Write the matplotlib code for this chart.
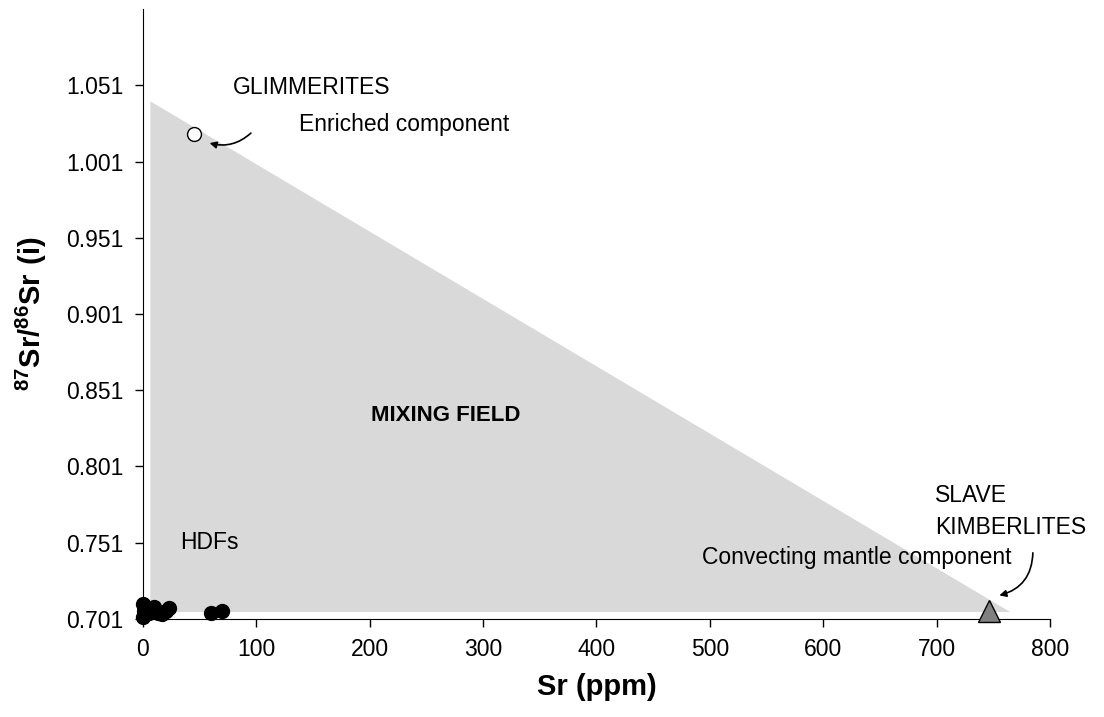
import matplotlib
matplotlib.use("Agg")
import matplotlib.pyplot as plt
from matplotlib.patches import Polygon

plt.rcParams['font.family'] = ['Liberation Sans', 'DejaVu Sans']
plt.rcParams['mathtext.fontset'] = 'custom'
plt.rcParams['mathtext.rm'] = 'Liberation Sans'
plt.rcParams['mathtext.bf'] = 'Liberation Sans:bold'

# -----------------------------
# Data
# -----------------------------
# mixing field (Sr ppm, 87Sr/86Sr)
field_x = [6.5, 6.5, 765]
field_y = [0.7056, 1.0405, 0.7056]

# HDFs
hdf_sr = [0, 0, 1, 2, 3, 5, 8, 10, 13, 17, 20, 23, 60, 70]
hdf_ratio = [0.711, 0.702, 0.706, 0.704, 0.708, 0.705, 0.707, 0.709,
             0.705, 0.704, 0.706, 0.708, 0.705, 0.706]

# end members
glim_sr = [45]
glim_ratio = [1.019]
kimb_sr = [746]
kimb_ratio = [0.7062]

yticks = [0.701, 0.751, 0.801, 0.851, 0.901, 0.951, 1.001, 1.051]
xticks = [0, 100, 200, 300, 400, 500, 600, 700, 800]

# -----------------------------
# Plot
# -----------------------------
fig = plt.figure(figsize=(11.04, 7.17), dpi=100)
ax = fig.add_axes([0.1295, 0.1367, 0.8215, 0.8507])

ax.add_patch(Polygon(list(zip(field_x, field_y)), closed=True,
                     facecolor="#d9d9d9", edgecolor="none", zorder=1))

ax.plot(hdf_sr, hdf_ratio, "o", color="black", markersize=10, zorder=3,
        clip_on=False)
ax.plot(glim_sr, glim_ratio, "o", markerfacecolor="white",
        markeredgecolor="black", markersize=10, markeredgewidth=1, zorder=3)
ax.plot(kimb_sr, kimb_ratio, "^", markerfacecolor="#808080",
        markeredgecolor="black", markersize=16, markeredgewidth=1, zorder=3,
        clip_on=False)

ax.set_xlim(0, 800)
ax.set_ylim(0.701, 1.101)
ax.set_xticks(xticks)
ax.set_yticks(yticks)
ax.set_yticklabels([f"{v:.3f}" for v in yticks])
ax.tick_params(direction="out", length=6, width=1, labelsize=16.5)
ax.tick_params(axis="y", pad=8)
ax.tick_params(axis="x", pad=8)
for s in ["top", "right"]:
    ax.spines[s].set_visible(False)

ax.set_xlabel("Sr (ppm)", fontsize=21, fontweight="bold", labelpad=8)
ax.set_ylabel(r"$\mathbf{^{87}Sr/^{86}Sr\ (i)}$", fontsize=21, labelpad=12)

fs = 16.5
ax.text(79, 1.0497, "GLIMMERITES", fontsize=fs, va="center")
ax.text(138, 1.0254, "Enriched component", fontsize=fs, va="center")
ax.text(267, 0.8347, "MIXING FIELD", fontsize=16, fontweight="bold",
        ha="center", va="center")
ax.text(32.6, 0.751, "HDFs", fontsize=fs, va="center")
ax.text(699, 0.7823, "SLAVE", fontsize=fs, va="center")
ax.text(699, 0.7613, "KIMBERLITES", fontsize=fs, va="center")
ax.text(493, 0.741, "Convecting mantle component", fontsize=fs, va="center")

ax.annotate("", xy=(56.4, 1.0136), xytext=(97, 1.0209),
            arrowprops=dict(arrowstyle="-|>", color="black", lw=1.2,
                            mutation_scale=10,
                            connectionstyle="arc3,rad=-0.3"))
ax.annotate("", xy=(753, 0.716), xytext=(785, 0.7462),
            arrowprops=dict(arrowstyle="-|>", color="black", lw=1.2,
                            mutation_scale=10,
                            connectionstyle="arc3,rad=-0.4"))

plt.savefig("out.png", dpi=100)
